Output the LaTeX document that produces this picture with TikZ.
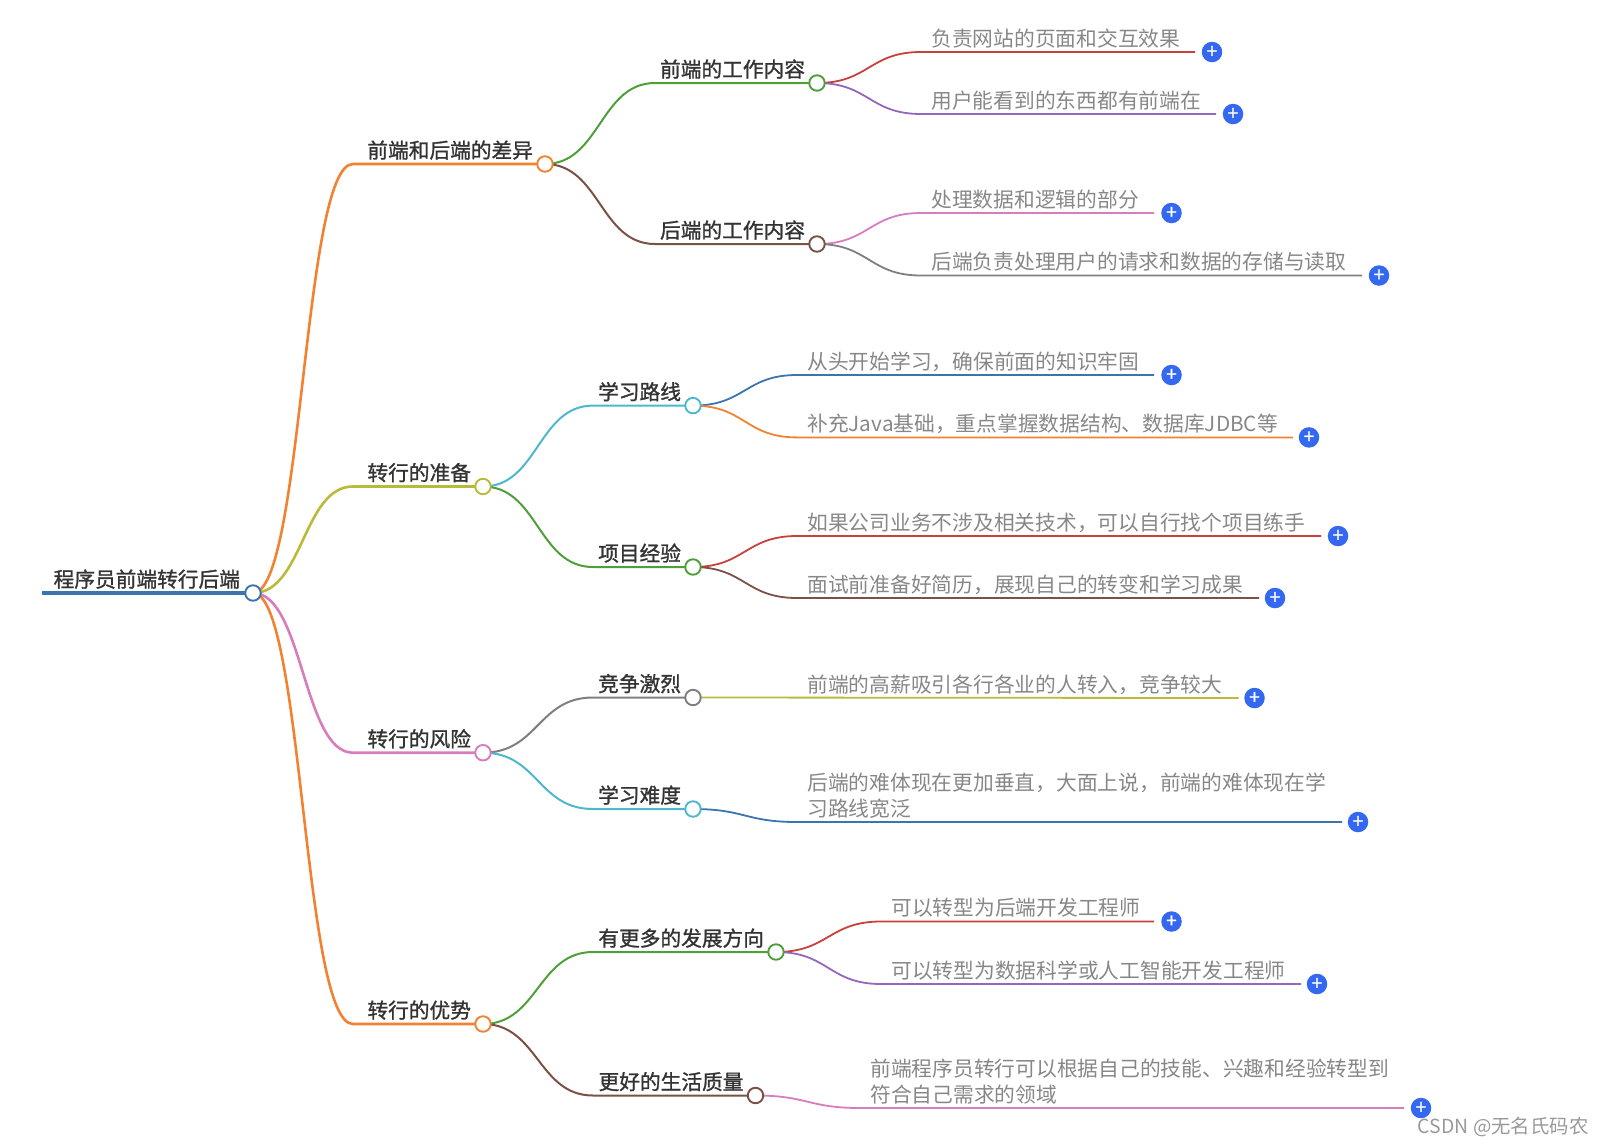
\documentclass[tikz,border=0pt]{standalone}
\usepackage{fontspec}
\setmainfont{Noto Sans CJK SC}
\newfontfamily\headfont[FakeBold=1.2]{Noto Sans CJK SC}
\usetikzlibrary{positioning, calc}
\pgfdeclarelayer{background}
\pgfsetlayers{background,main}
\definecolor{cblue}{HTML}{3B75B0}
\definecolor{corange}{HTML}{F28232}
\definecolor{cgreen}{HTML}{4E9F3A}
\definecolor{cred}{HTML}{C8403C}
\definecolor{cpurple}{HTML}{9467BD}
\definecolor{cbrown}{HTML}{7B5145}
\definecolor{cpink}{HTML}{D87CC0}
\definecolor{cgray}{HTML}{7F7F7F}
\definecolor{colive}{HTML}{B8BA3A}
\definecolor{ccyan}{HTML}{4CB8CC}
\definecolor{cplus}{HTML}{3468F0}
\tikzset{
    dot/.style={circle, draw, fill=white, minimum size=15.5pt, inner sep=0pt, line width=1.9pt},
    head/.style={anchor=base east, xshift=-8.5pt, yshift=6pt, text=black!80, font=\headfont\fontsize{20.7}{25}\selectfont},
    leaf/.style={anchor=base west, xshift=6.8pt, yshift=6pt, text=black!47, align=left, font=\fontsize{20.75}{25.4}\selectfont},
    plus/.style={circle, fill=cplus, text=white, minimum size=20.5pt, inner sep=0pt, font=\headfont\fontsize{19}{19}\selectfont},
    link/.style={to path={let \p1=(\tikztostart), \p2=(\tikztotarget), \n1={(\x1+\x2)/2} in
        .. controls (\n1,\y1) and (\n1,\y2) .. (\tikztotarget)}},
    lka/.style={line width=2.6pt},
    lkb/.style={line width=2pt},
    lkc/.style={line width=1.8pt},
}

\begin{document}
\begin{tikzpicture}[x=1pt, y=-1pt]
    \useasboundingbox (0,0) rectangle (1604,1144);

    \coordinate (r0s) at (42,593);
    \node[dot, draw=cblue] (r0) at (253,593) {};
    \node[head, xshift=-1pt] (r0t) at (r0) {程序员前端转行后端};

    % first branch
    \node[dot, draw=corange] (a0) at (545,164) {};
    \node[head] (a0t) at (a0) {前端和后端的差异};
    \coordinate (a0k) at (353,164);

    \node[dot, draw=cgreen] (a1) at (817,83) {};
    \node[head] (a1t) at (a1) {前端的工作内容};
    \coordinate (a1k) at (655,83);
    \node[dot, draw=cbrown] (a2) at (817,244) {};
    \node[head] (a2t) at (a2) {后端的工作内容};
    \coordinate (a2k) at (655,244);

    \coordinate (l1k) at (921,52);
    \coordinate (l1e) at (1195,52);
    \node[leaf] (l1) at (l1k) {负责网站的页面和交互效果};
    \node[plus] (p1) at (1212,52) {+};
    \coordinate (l2k) at (921,114);
    \coordinate (l2e) at (1216,114);
    \node[leaf] (l2) at (l2k) {用户能看到的东西都有前端在};
    \node[plus] (p2) at (1233,114) {+};
    \coordinate (l3k) at (921,213);
    \coordinate (l3e) at (1154,213);
    \node[leaf] (l3) at (l3k) {处理数据和逻辑的部分};
    \node[plus] (p3) at (1171.5,213) {+};
    \coordinate (l4k) at (921,275.5);
    \coordinate (l4e) at (1362,275.5);
    \node[leaf] (l4) at (l4k) {后端负责处理用户的请求和数据的存储与读取};
    \node[plus] (p4) at (1379,275.5) {+};

    % second branch
    \node[dot, draw=colive] (b0) at (483,486.5) {};
    \node[head] (b0t) at (b0) {转行的准备};
    \coordinate (b0k) at (353,486.5);

    \node[dot, draw=ccyan] (b1) at (693,405.6) {};
    \node[head] (b1t) at (b1) {学习路线};
    \coordinate (b1k) at (593,405.6);
    \node[dot, draw=cgreen] (b2) at (693,567) {};
    \node[head] (b2t) at (b2) {项目经验};
    \coordinate (b2k) at (593,567);

    \coordinate (l5k) at (797,375);
    \coordinate (l5e) at (1154,375);
    \node[leaf] (l5) at (l5k) {从头开始学习，确保前面的知识牢固};
    \node[plus] (p5) at (1171.5,375) {+};
    \coordinate (l6k) at (797,437.4);
    \coordinate (l6e) at (1293,437.4);
    \node[leaf] (l6) at (l6k) {补充Java基础，重点掌握数据结构、数据库JDBC等};
    \node[plus] (p6) at (1309,437.4) {+};
    \coordinate (l7k) at (797,536);
    \coordinate (l7e) at (1321,536);
    \node[leaf] (l7) at (l7k) {如果公司业务不涉及相关技术，可以自行找个项目练手};
    \node[plus] (p7) at (1338,536) {+};
    \coordinate (l8k) at (797,598);
    \coordinate (l8e) at (1259,598);
    \node[leaf] (l8) at (l8k) {面试前准备好简历，展现自己的转变和学习成果};
    \node[plus] (p8) at (1275,598) {+};

    % third branch
    \node[dot, draw=cpink] (c0) at (483,752.7) {};
    \node[head] (c0t) at (c0) {转行的风险};
    \coordinate (c0k) at (353,752.7);

    \node[dot, draw=cgray] (c1) at (693,697.5) {};
    \node[head] (c1t) at (c1) {竞争激烈};
    \coordinate (c1k) at (593,697.5);
    \node[dot, draw=ccyan] (c2) at (693,809) {};
    \node[head] (c2t) at (c2) {学习难度};
    \coordinate (c2k) at (593,809);

    \coordinate (l9k) at (797,698);
    \coordinate (l9e) at (1238.5,698);
    \node[leaf] (l9) at (l9k) {前端的高薪吸引各行各业的人转入，竞争较大};
    \node[plus] (p9) at (1254.5,698) {+};
    \coordinate (l10k) at (797,822);
    \coordinate (l10e) at (1342,822);
    \node[leaf] (l10) at (l10k) {后端的难体现在更加垂直，大面上说，前端的难体现在学\\习路线宽泛};
    \node[plus] (p10) at (1358,822) {+};

    % fourth branch
    \node[dot, draw=corange] (d0) at (483,1024) {};
    \node[head] (d0t) at (d0) {转行的优势};
    \coordinate (d0k) at (353,1024);

    \node[dot, draw=cgreen] (d1) at (776,952) {};
    \node[head] (d1t) at (d1) {有更多的发展方向};
    \coordinate (d1k) at (593,952);
    \node[dot, draw=cbrown] (d2) at (755.5,1095.5) {};
    \node[head] (d2t) at (d2) {更好的生活质量};
    \coordinate (d2k) at (593,1095.5);

    \coordinate (l11k) at (881,921.5);
    \coordinate (l11e) at (1154,921.5);
    \node[leaf] (l11) at (l11k) {可以转型为后端开发工程师};
    \node[plus] (p11) at (1171.5,921.5) {+};
    \coordinate (l12k) at (881,984);
    \coordinate (l12e) at (1301,984);
    \node[leaf] (l12) at (l12k) {可以转型为数据科学或人工智能开发工程师};
    \node[plus] (p12) at (1317,984) {+};
    \coordinate (l13k) at (860,1108);
    \coordinate (l13e) at (1404,1108);
    \node[leaf] (l13) at (l13k) {前端程序员转行可以根据自己的技能、兴趣和经验转型到\\符合自己需求的领域};
    \node[plus] (p13) at (1421,1108) {+};

    \node[anchor=base east, text=black!40, font=\fontsize{19.4}{19}\selectfont] (mark) at (1592,1133) {CSDN @无名氏码农};

    \begin{pgfonlayer}{background}
      \draw[cblue, line width=4.8pt] (r0s) -- (r0.center);

      \draw[lka, corange] (r0.center) to[link] (a0k) -- (a0.center);
      \draw[lka, colive] (r0.center) to[link] (b0k) -- (b0.center);
      \draw[lka, cpink] (r0.center) to[link] (c0k) -- (c0.center);
      \draw[lka, corange] (r0.center) to[link] (d0k) -- (d0.center);

      \draw[lkb, cgreen] (a0.center) to[link] (a1k) -- (a1.center);
      \draw[lkb, cbrown] (a0.center) to[link] (a2k) -- (a2.center);
      \draw[lkb, ccyan] (b0.center) to[link] (b1k) -- (b1.center);
      \draw[lkb, cgreen] (b0.center) to[link] (b2k) -- (b2.center);
      \draw[lkb, cgray] (c0.center) to[link] (c1k) -- (c1.center);
      \draw[lkb, ccyan] (c0.center) to[link] (c2k) -- (c2.center);
      \draw[lkb, cgreen] (d0.center) to[link] (d1k) -- (d1.center);
      \draw[lkb, cbrown] (d0.center) to[link] (d2k) -- (d2.center);

      \draw[lkc, cred] (a1.center) to[link] (l1k) -- (l1e);
      \draw[lkc, cpurple] (a1.center) to[link] (l2k) -- (l2e);
      \draw[lkc, cpink] (a2.center) to[link] (l3k) -- (l3e);
      \draw[lkc, cgray] (a2.center) to[link] (l4k) -- (l4e);
      \draw[lkc, cblue] (b1.center) to[link] (l5k) -- (l5e);
      \draw[lkc, corange] (b1.center) to[link] (l6k) -- (l6e);
      \draw[lkc, cred] (b2.center) to[link] (l7k) -- (l7e);
      \draw[lkc, cbrown] (b2.center) to[link] (l8k) -- (l8e);
      \draw[lkc, colive] (c1.center) -- (l9e);
      \draw[lkc, cblue] (c2.center) to[link] (l10k) -- (l10e);
      \draw[lkc, cred] (d1.center) to[link] (l11k) -- (l11e);
      \draw[lkc, cpurple] (d1.center) to[link] (l12k) -- (l12e);
      \draw[lkc, cpink] (d2.center) to[link] (l13k) -- (l13e);
    \end{pgfonlayer}
\end{tikzpicture}
\end{document}
